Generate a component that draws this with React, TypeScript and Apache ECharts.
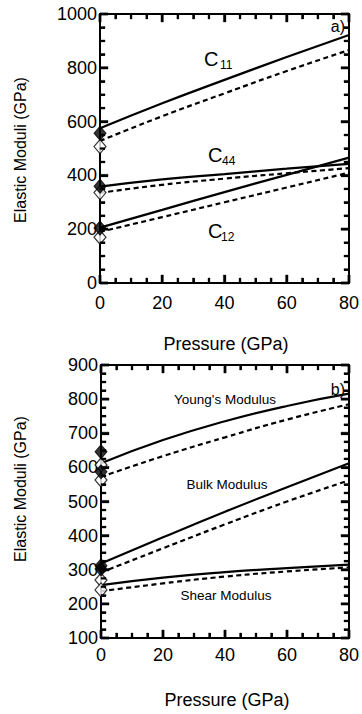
import React, { useEffect, useRef } from 'react';
import * as echarts from 'echarts';

const pressure = [0, 20, 40, 60, 80];

// panel a
const c11Calc = [575, 668, 755, 840, 922];
const c11Dash = [528, 620, 705, 788, 866];
const c44Calc = [358, 385, 405, 425, 443];
const c44Dash = [335, 365, 388, 408, 427];
const c12Calc = [206, 272, 338, 402, 466];
const c12Dash = [190, 245, 300, 355, 410];
const aFilled = [557, 360, 204];
const aOpen = [507, 336, 170];

// panel b
const youngCalc = [612, 680, 735, 780, 816];
const youngDash = [572, 633, 688, 740, 785];
const bulkCalc = [318, 395, 470, 542, 612];
const bulkDash = [292, 363, 433, 500, 562];
const shearCalc = [255, 277, 293, 305, 315];
const shearDash = [237, 260, 280, 295, 307];
const bFilled = [646, 587, 312, 302];
const bOpen = [607, 563, 270, 241];

// tick positions (frame ticks on all four sides)
const xMajor = [0, 20, 40, 60, 80];
const xMinor = [5, 10, 15, 25, 30, 35, 45, 50, 55, 65, 70, 75];
const aYMajor = [0, 200, 400, 600, 800, 1000];
const aYMinor = [50, 100, 150, 250, 300, 350, 450, 500, 550, 650, 700, 750, 850, 900, 950];
const bYMajor = [100, 200, 300, 400, 500, 600, 700, 800, 900];
const bYMinor = [
  125, 150, 175, 225, 250, 275, 325, 350, 375, 425, 450, 475,
  525, 550, 575, 625, 650, 675, 725, 750, 775, 825, 850, 875,
];

const FONT = '"Liberation Sans", Arial, Helvetica, sans-serif';

const pts = (ys: number[]) => pressure.map((p, i) => [p, ys[i]]);
const at0 = (ys: number[]) => ys.map((y) => [0, y]);
const tickRows = (yMajor: number[], yMinor: number[]) => {
  const rows: number[][] = [];
  xMajor.forEach((v) => rows.push([v, 0]));
  xMinor.forEach((v) => rows.push([v, 1]));
  yMajor.forEach((v) => rows.push([v, 2]));
  yMinor.forEach((v) => rows.push([v, 3]));
  return rows;
};

export default function App() {
  const ref = useRef<HTMLDivElement>(null);
  useEffect(() => {
    if (!ref.current) return;
    const chart = echarts.init(ref.current, undefined, { renderer: 'svg' });

    const mkAxisLine = () => ({ show: true, onZero: false, lineStyle: { color: '#000', width: 2 } });
    const mkTick = () => ({ show: true, inside: true, length: 8, lineStyle: { color: '#000', width: 2.2 } });
    const mkMinor = () => ({ show: true, splitNumber: 4, length: 5, lineStyle: { color: '#000', width: 1.8 } });
    const xBase = (grid: number, pos: 'bottom' | 'top', label: boolean, margin: number) => ({
      type: 'value',
      gridIndex: grid,
      position: pos,
      min: 0,
      max: 80,
      interval: 20,
      axisLine: mkAxisLine(),
      axisTick: mkTick(),
      minorTick: mkMinor(),
      splitLine: { show: false },
      axisLabel: {
        show: label,
        color: '#000',
        fontSize: 18,
        fontFamily: FONT,
        margin,
        formatter: (v: number) => String(v),
      },
    });
    const yBase = (grid: number, pos: 'left' | 'right', label: boolean, min: number, max: number, interval: number) => ({
      type: 'value',
      gridIndex: grid,
      position: pos,
      min,
      max,
      interval,
      axisLine: mkAxisLine(),
      axisTick: mkTick(),
      minorTick: mkMinor(),
      splitLine: { show: false },
      axisLabel: {
        show: label,
        color: '#000',
        fontSize: 18,
        fontFamily: FONT,
        margin: 3,
        formatter: (v: number) => String(v),
      },
    });

    const solid = (name: string, ys: number[], xi: number) => ({
      name,
      type: 'line',
      xAxisIndex: xi,
      yAxisIndex: xi,
      data: pts(ys),
      smooth: true,
      symbol: 'none',
      lineStyle: { color: '#000', width: 2.2, type: 'solid' },
      z: 3,
    });
    const dashed = (name: string, ys: number[], xi: number) => ({
      name,
      type: 'line',
      xAxisIndex: xi,
      yAxisIndex: xi,
      data: pts(ys),
      smooth: true,
      symbol: 'none',
      lineStyle: { color: '#000', width: 2.2, type: [5, 3.5] },
      z: 3,
    });
    const marks = (name: string, ys: number[], xi: number, filled: boolean) => ({
      name,
      type: 'scatter',
      xAxisIndex: xi,
      yAxisIndex: xi,
      data: at0(ys),
      symbol: 'diamond',
      symbolSize: [12, 14],
      clip: false,
      itemStyle: filled
        ? { color: '#000', borderColor: '#000', borderWidth: 1 }
        : { color: '#fff', borderColor: '#000', borderWidth: 1.2 },
      z: filled ? 6 : 5,
    });

    const ticks = (name: string, xi: number, rows: number[][], yMin: number, yMax: number) => ({
      name,
      type: 'custom',
      coordinateSystem: 'cartesian2d',
      xAxisIndex: xi,
      yAxisIndex: xi,
      data: rows,
      encode: { x: 0, y: -1 },
      clip: false,
      silent: true,
      z: 8,
      renderItem: (_p: any, api: any) => {
        const v = api.value(0);
        const k = api.value(1);
        const major = k === 0 || k === 2;
        const len = major ? 8 : 5;
        const w = major ? 2.2 : 1.8;
        const st = { fill: '#000', stroke: '#000', lineWidth: 0.4 };
        if (k < 2) {
          const b = api.coord([v, yMin]);
          const t = api.coord([v, yMax]);
          return {
            type: 'group',
            children: [
              { type: 'rect', shape: { x: b[0] - w / 2, y: b[1] - len, width: w, height: len }, style: st },
              { type: 'rect', shape: { x: t[0] - w / 2, y: t[1], width: w, height: len }, style: st },
            ],
          };
        }
        const l = api.coord([0, v]);
        const r = api.coord([80, v]);
        return {
          type: 'group',
          children: [
            { type: 'rect', shape: { x: l[0], y: l[1] - w / 2, width: len, height: w }, style: st },
            { type: 'rect', shape: { x: r[0] - len, y: r[1] - w / 2, width: len, height: w }, style: st },
          ],
        };
      },
    });

    const txt = (text: string, x: number, y: number, size: number, align = 'left') => ({
      type: 'text',
      x,
      y,
      z: 10,
      style: { text, fontSize: size, fontFamily: FONT, fill: '#000', align, verticalAlign: 'middle' },
    });

    chart.setOption({
      animation: false,
      backgroundColor: '#fff',
      grid: [
        { left: 100, top: 14, width: 250, height: 269 },
        { left: 101, top: 365, width: 251, height: 273 },
      ],
      xAxis: [
        xBase(0, 'bottom', true, 11),
        xBase(0, 'top', false, 8),
        xBase(1, 'bottom', true, 8),
        xBase(1, 'top', false, 8),
      ],
      yAxis: [
        yBase(0, 'left', true, 0, 1000, 200),
        yBase(0, 'right', false, 0, 1000, 200),
        yBase(1, 'left', true, 100, 900, 100),
        yBase(1, 'right', false, 100, 900, 100),
      ],
      series: [
        ticks('ticks a', 0, tickRows(aYMajor, aYMinor), 0, 1000),
        ticks('ticks b', 2, tickRows(bYMajor, bYMinor), 100, 900),
        solid('C11 calc', c11Calc, 0),
        dashed('C11 calc 2', c11Dash, 0),
        solid('C44 calc', c44Calc, 0),
        dashed('C44 calc 2', c44Dash, 0),
        solid('C12 calc', c12Calc, 0),
        dashed('C12 calc 2', c12Dash, 0),
        marks('a exp filled', aFilled, 0, true),
        marks('a exp open', aOpen, 0, false),
        solid('Young calc', youngCalc, 2),
        dashed('Young calc 2', youngDash, 2),
        solid('Bulk calc', bulkCalc, 2),
        dashed('Bulk calc 2', bulkDash, 2),
        solid('Shear calc', shearCalc, 2),
        dashed('Shear calc 2', shearDash, 2),
        marks('b exp filled', bFilled, 2, true),
        marks('b exp open', bOpen, 2, false),
      ],
      graphic: [
        txt('C', 204, 58.5, 20),
        txt('11', 220, 65, 12),
        txt('C', 208, 154.5, 20),
        txt('44', 222, 161, 12),
        txt('C', 208, 230.5, 20),
        txt('12', 221, 237, 12),
        txt('a)', 345, 26, 16, 'right'),
        txt('b)', 345, 389.5, 16, 'right'),
        txt("Young's Modulus", 225, 399, 13.5, 'center'),
        txt('Bulk Modulus', 227, 484, 13.5, 'center'),
        txt('Shear Modulus', 226, 595, 13.5, 'center'),
        txt('Pressure (GPa)', 226, 344, 18, 'center'),
        txt('Pressure (GPa)', 227, 700, 18, 'center'),
        {
          type: 'text',
          x: 20,
          y: 150,
          rotation: Math.PI / 2,
          z: 10,
          style: { text: 'Elastic Moduli (GPa)', fontSize: 16, fontFamily: FONT, fill: '#000', align: 'center', verticalAlign: 'middle' },
        },
        {
          type: 'text',
          x: 20,
          y: 489,
          rotation: Math.PI / 2,
          z: 10,
          style: { text: 'Elastic Moduli (GPa)', fontSize: 16, fontFamily: FONT, fill: '#000', align: 'center', verticalAlign: 'middle' },
        },
      ],
    });
    return () => chart.dispose();
  }, []);
  return <div ref={ref} style={{ width: 362, height: 714, position: 'absolute', left: 0, top: 0 }} />;
}
